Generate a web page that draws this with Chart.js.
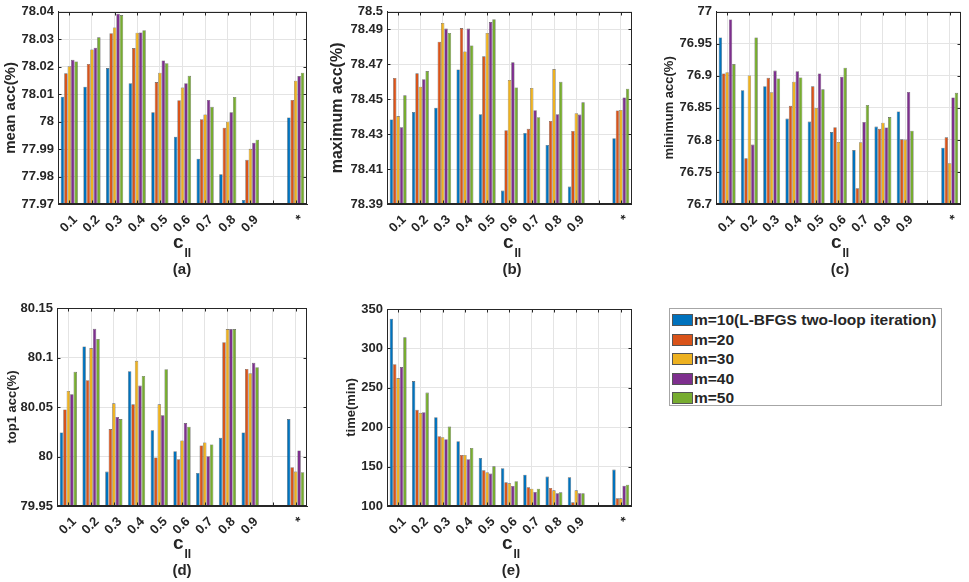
<!DOCTYPE html>
<html>
<head>
<meta charset="utf-8">
<title>Effect of m and c_II</title>
<script src="https://cdn.jsdelivr.net/npm/chart.js@4.4.1/dist/chart.umd.min.js"></script>
<style>
  body { margin:0; width:969px; height:582px; background:#fff; position:relative; overflow:hidden;
         font-family:"Liberation Sans", Arial, sans-serif; color:#262626; }
  .panel { position:absolute; }
  .xlab { position:absolute; font-weight:bold; font-size:19px; line-height:19px; transform:translateX(-50%); white-space:nowrap; }
  .xlab span { position:relative; top:9px; font-size:12px; margin-left:1px; }
  .cap { position:absolute; font-weight:bold; font-size:15px; line-height:17px; transform:translateX(-50%); }
  #legend { position:absolute; left:669px; top:308px; width:271px; height:96px; border:1px solid #a6a6a6; background:#fff; }
  .item { position:absolute; left:2px; height:19px; display:flex; align-items:center;
          font-weight:bold; font-size:15.5px; white-space:nowrap; }
  .sw { width:19px; height:10px; border:1px solid #555; margin-right:1px; }
</style>
</head>
<body>
<div class="panel" style="left:0;top:0;width:320px;height:290px"><canvas id="cA"></canvas></div>
<div class="panel" style="left:320px;top:0;width:320px;height:290px"><canvas id="cB"></canvas></div>
<div class="panel" style="left:640px;top:0;width:329px;height:290px"><canvas id="cC"></canvas></div>
<div class="panel" style="left:0;top:290px;width:320px;height:292px"><canvas id="cD"></canvas></div>
<div class="panel" style="left:320px;top:290px;width:320px;height:292px"><canvas id="cE"></canvas></div>

<div class="xlab" style="left:182px;top:232px">c<span>II</span></div>
<div class="xlab" style="left:512px;top:232px">c<span>II</span></div>
<div class="xlab" style="left:840px;top:232px">c<span>II</span></div>
<div class="xlab" style="left:182px;top:533px">c<span>II</span></div>
<div class="xlab" style="left:511px;top:533px">c<span>II</span></div>
<div class="cap" style="left:182px;top:260px">(a)</div>
<div class="cap" style="left:512px;top:260px">(b)</div>
<div class="cap" style="left:840px;top:260px">(c)</div>
<div class="cap" style="left:182px;top:561px">(d)</div>
<div class="cap" style="left:511px;top:561px">(e)</div>

<div id="legend"></div>

<script>
// x categories (the 10th slot is left empty in the original)
const categories = ['0.1', '0.2', '0.3', '0.4', '0.5', '0.6', '0.7', '0.8', '0.9', '', '*'];
const seriesNames = ['m=10(L-BFGS two-loop iteration)', 'm=20', 'm=30', 'm=40', 'm=50'];
const seriesColors = ['#0072BD', '#D95319', '#EDB120', '#7E2F8E', '#77AC30'];

// one row per m (10,20,30,40,50)
const meanAcc = [
  [78.0091, 78.0127, 78.0195, 78.0140, 78.0034, 77.9945, 77.9865, 77.9808, 77.9715, null, 78.0015],
  [78.0176, 78.0210, 78.0322, 78.0268, 78.0144, 78.0078, 78.0009, 77.9978, 77.9861, null, 78.0079],
  [78.0202, 78.0263, 78.0343, 78.0324, 78.0178, 78.0124, 78.0026, 78.0000, 77.9901, null, 78.0149],
  [78.0225, 78.0269, 78.0393, 78.0325, 78.0223, 78.0140, 78.0079, 78.0034, 77.9923, null, 78.0166],
  [78.0219, 78.0307, 78.0388, 78.0333, 78.0213, 78.0167, 78.0054, 78.0090, 77.9934, null, 78.0178]
];
const maxAcc = [
  [78.4384, 78.4427, 78.4451, 78.4670, 78.4414, 78.3977, 78.4307, 78.4238, 78.4000, null, 78.4277],
  [78.4621, 78.4648, 78.4829, 78.4907, 78.4745, 78.4322, 78.4330, 78.4375, 78.4318, null, 78.4435],
  [78.4403, 78.4571, 78.4936, 78.4773, 78.4879, 78.4610, 78.4564, 78.4672, 78.4420, null, 78.4438],
  [78.4339, 78.4614, 78.4904, 78.4904, 78.4941, 78.4711, 78.4437, 78.4414, 78.4412, null, 78.4510],
  [78.4522, 78.4661, 78.4879, 78.4807, 78.4958, 78.4567, 78.4397, 78.4599, 78.4482, null, 78.4560]
];
const minAcc = [
  [76.9600, 76.8777, 76.8838, 76.8334, 76.8286, 76.8122, 76.7842, 76.8209, 76.8444, null, 76.7878],
  [76.9037, 76.7713, 76.8970, 76.8533, 76.8837, 76.8199, 76.7245, 76.8173, 76.8010, null, 76.8041],
  [76.9057, 76.9006, 76.8746, 76.8910, 76.8500, 76.7969, 76.7964, 76.8270, 76.8005, null, 76.7638],
  [76.9880, 76.7927, 76.9083, 76.9072, 76.9037, 76.8986, 76.8280, 76.8194, 76.8750, null, 76.8663],
  [76.9184, 76.9600, 76.8960, 76.8976, 76.8790, 76.9128, 76.8546, 76.8357, 76.8143, null, 76.8735]
];
const top1Acc = [
  [80.0243, 80.1111, 79.9848, 80.0861, 80.0264, 80.0054, 79.9834, 80.0189, 80.0243, null, 80.0378],
  [80.0476, 80.0770, 80.0277, 80.0527, 79.9990, 79.9973, 80.0111, 80.1155, 80.0885, null, 79.9892],
  [80.0662, 80.1095, 80.0537, 80.0966, 80.0527, 80.0162, 80.0142, 80.1287, 80.0841, null, 79.9848],
  [80.0628, 80.1290, 80.0399, 80.0716, 80.0416, 80.0338, 80.0003, 80.1287, 80.0946, null, 80.0061],
  [80.0855, 80.1186, 80.0378, 80.0814, 80.0882, 80.0301, 80.0122, 80.1287, 80.0902, null, 79.9841]
];
const timeMin = [
  [337.7, 258.5, 212.7, 182.2, 161.0, 147.9, 139.8, 137.3, 136.4, null, 146.2],
  [280.0, 222.0, 188.6, 164.8, 145.3, 130.0, 123.7, 122.9, 104.7, null, 109.7],
  [262.3, 218.2, 187.3, 164.8, 142.8, 128.8, 122.0, 119.9, 119.9, null, 109.7],
  [276.3, 219.0, 184.7, 159.3, 141.1, 125.4, 117.8, 116.1, 116.1, null, 125.8],
  [314.0, 244.0, 200.8, 173.7, 150.4, 131.4, 122.0, 117.4, 116.1, null, 127.1]
];

// y tick labels
const meanTicks = [77.97, 77.98, 77.99, 78, 78.01, 78.02, 78.03, 78.04];
const maxTicks = [78.39, 78.41, 78.43, 78.45, 78.47, 78.49, 78.5];
const minTicks = [76.7, 76.75, 76.8, 76.85, 76.9, 76.95, 77];
const top1Ticks = [79.95, 80, 80.05, 80.1, 80.15];
const timeTicks = [100, 150, 200, 250, 300, 350];

Chart.defaults.font.family = '"Liberation Sans", Arial, sans-serif';
Chart.defaults.color = '#262626';

// box around the axes + small inward tick marks (matlab style)
const frame = {
  id: 'frame',
  afterDatasetsDraw(chart) {
    const { ctx, chartArea: a, scales } = chart;
    const L = Math.round(a.left) + 0.5, R = Math.round(a.right) - 0.5;
    const T = Math.round(a.top) + 0.5, B = Math.round(a.bottom) - 0.5;
    ctx.save();
    ctx.strokeStyle = '#262626';
    ctx.lineWidth = 1;
    ctx.strokeRect(L, T, R - L, B - T);
    ctx.beginPath();
    scales.x.ticks.forEach((t, i) => {
      const x = Math.round(scales.x.getPixelForTick(i)) + 0.5;
      ctx.moveTo(x, B); ctx.lineTo(x, B - 3);
      ctx.moveTo(x, T); ctx.lineTo(x, T + 3);
    });
    scales.y.ticks.forEach(t => {
      const y = Math.round(scales.y.getPixelForValue(t.value)) + 0.5;
      ctx.moveTo(L, y); ctx.lineTo(L + 3, y);
      ctx.moveTo(R, y); ctx.lineTo(R - 3, y);
    });
    ctx.stroke();
    ctx.restore();
  }
};

function makePanel(id, rows, ticks, yTitle, o) {
  new Chart(document.getElementById(id), {
    type: 'bar',
    data: {
      labels: categories,
      datasets: rows.map((r, i) => ({
        label: seriesNames[i],
        data: r,
        backgroundColor: seriesColors[i],
        borderColor: 'rgba(40,40,40,0.75)',
        borderWidth: 0.6,
        categoryPercentage: 0.76,
        barPercentage: 1
      }))
    },
    options: {
      responsive: true,
      maintainAspectRatio: false,
      animation: false,
      layout: { padding: { left: 0, top: o.top, right: o.right, bottom: 0 } },
      plugins: { legend: { display: false }, tooltip: { enabled: false } },
      scales: {
        x: {
          offset: true,
          grid: { offset: false, color: '#e4e4e4', drawTicks: false },
          border: { color: '#262626' },
          ticks: { font: { size: 13, weight: 'bold' }, color: '#262626',
                   minRotation: 45, maxRotation: 45, autoSkip: false, padding: 8, labelOffset: 6 },
          afterFit: s => { s.height = o.xh; }
        },
        y: {
          min: ticks[0],
          max: ticks[ticks.length - 1],
          grid: { color: '#e4e4e4', drawTicks: false },
          border: { color: '#262626' },
          afterBuildTicks: s => { s.ticks = ticks.map(v => ({ value: v })); },
          ticks: { font: { size: 13, weight: 'bold' }, color: '#262626', padding: 4,
                   callback: v => String(v) },
          title: { display: true, text: yTitle, color: '#262626',
                   font: { size: o.ts, weight: 'bold' }, padding: { top: o.tp, bottom: 0 } },
          afterFit: s => { s.width = o.yw; }
        }
      }
    },
    plugins: [frame]
  });
}

makePanel('cA', meanAcc, meanTicks, 'mean acc(%)', { top: 8, right: 13, xh: 86, yw: 58, ts: 15, tp: 2 });
makePanel('cB', maxAcc, maxTicks, 'maximum acc(%)', { top: 8, right: 3, xh: 86, yw: 67, ts: 16, tp: 8 });
makePanel('cC', minAcc, minTicks, 'minimum acc(%)', { top: 8, right: 6, xh: 86, yw: 76, ts: 13, tp: 22 });
makePanel('cD', top1Acc, top1Ticks, 'top1 acc(%)', { top: 18, right: 13, xh: 76, yw: 57, ts: 13, tp: 5 });
makePanel('cE', timeMin, timeTicks, 'time(min)', { top: 19, right: 5, xh: 76, yw: 67, ts: 13, tp: 24 });

// legend box
const legend = document.getElementById('legend');
seriesNames.forEach((name, i) => {
  const row = document.createElement('div');
  row.className = 'item';
  row.style.top = (1.5 + i * 19.5) + 'px';
  const sw = document.createElement('div');
  sw.className = 'sw';
  sw.style.background = seriesColors[i];
  row.appendChild(sw);
  row.appendChild(document.createTextNode(name));
  legend.appendChild(row);
});
</script>
</body>
</html>
